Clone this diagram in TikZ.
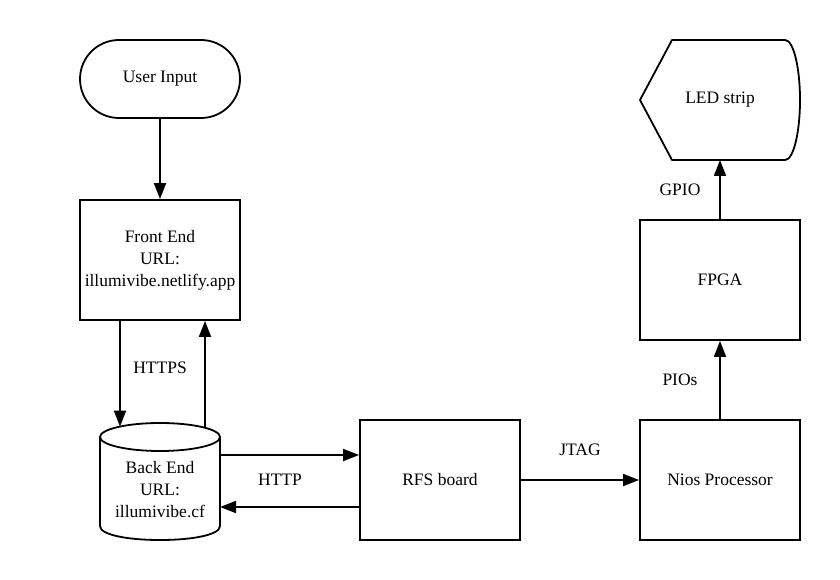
\documentclass[tikz,border=0pt]{standalone}
\usepackage{fontspec}
\setmainfont{Liberation Serif}
\usetikzlibrary{arrows.meta}
\begin{document}
\begin{tikzpicture}[x=1pt,y=-1pt,line width=1.8pt,
  font=\fontsize{17.5}{22}\selectfont,
  box/.style={draw,minimum width=160pt,minimum height=120pt,align=center,inner sep=0pt},
  term/.style={draw,rounded corners=39pt,minimum width=160pt,minimum height=78pt,inner sep=0pt},
  ghost/.style={minimum width=#1,minimum height=120pt,inner sep=0pt,outer sep=0pt,align=center},
  arr/.style={-{Triangle[length=16pt,width=12pt]}},
  lbl/.style={inner sep=0pt,align=center}]
\useasboundingbox (0,0) rectangle (840,580);
% nodes
\node[term] (ui) at (160,79) {User Input};
\node[box] (fe) at (160,260) {Front End\\URL:\\illumivibe.netlify.app};
\node[ghost=120pt] (be) at (160,480) {};
\node[lbl] (bet) at (160,490) {Back End\\URL:\\illumivibe.cf};
\node[box] (rfs) at (440,480) {RFS board};
\node[box] (nios) at (720,480) {Nios Processor};
\node[box] (fpga) at (720,280) {FPGA};
\node[ghost=160pt] (led) at (720,100) {LED strip};
% cylinder outline
\draw (100,437) -- (100,526) .. controls (100,544.7) and (220,544.7) .. (220,526) -- (220,437);
\draw (160,437) ellipse [x radius=60,y radius=14];
% display outline
\draw[line join=round] (672,40) -- (785,40)
  .. controls (793.3,40) and (800,66.9) .. (800,100)
  .. controls (800,133.1) and (793.3,160) .. (785,160)
  -- (672,160) -- (640,100) -- cycle;
% connectors
\coordinate (bein) at (120,426.6);
\coordinate (beout) at (205,427.7);
\draw[arr] (ui) -- (fe);
\draw[arr] (fe.south -| bein) -- (bein);
\draw[arr] (beout) -- (fe.south -| beout);
\draw[arr] ([yshift=25pt]be.east) -- ([yshift=25pt]rfs.west);
\draw[arr] ([yshift=-27pt]rfs.west) -- ([yshift=-27pt]be.east);
\draw[arr] (rfs) -- (nios);
\draw[arr] (nios) -- (fpga);
\draw[arr] (fpga) -- (led);
% labels
\node[lbl] (l1) at (160,368) {HTTPS};
\node[lbl] (l2) at (280,480) {HTTP};
\node[lbl] (l3) at (580,450) {JTAG};
\node[lbl] (l4) at (680,380) {PIOs};
\node[lbl] (l5) at (680,190) {GPIO};
\end{tikzpicture}
\end{document}
